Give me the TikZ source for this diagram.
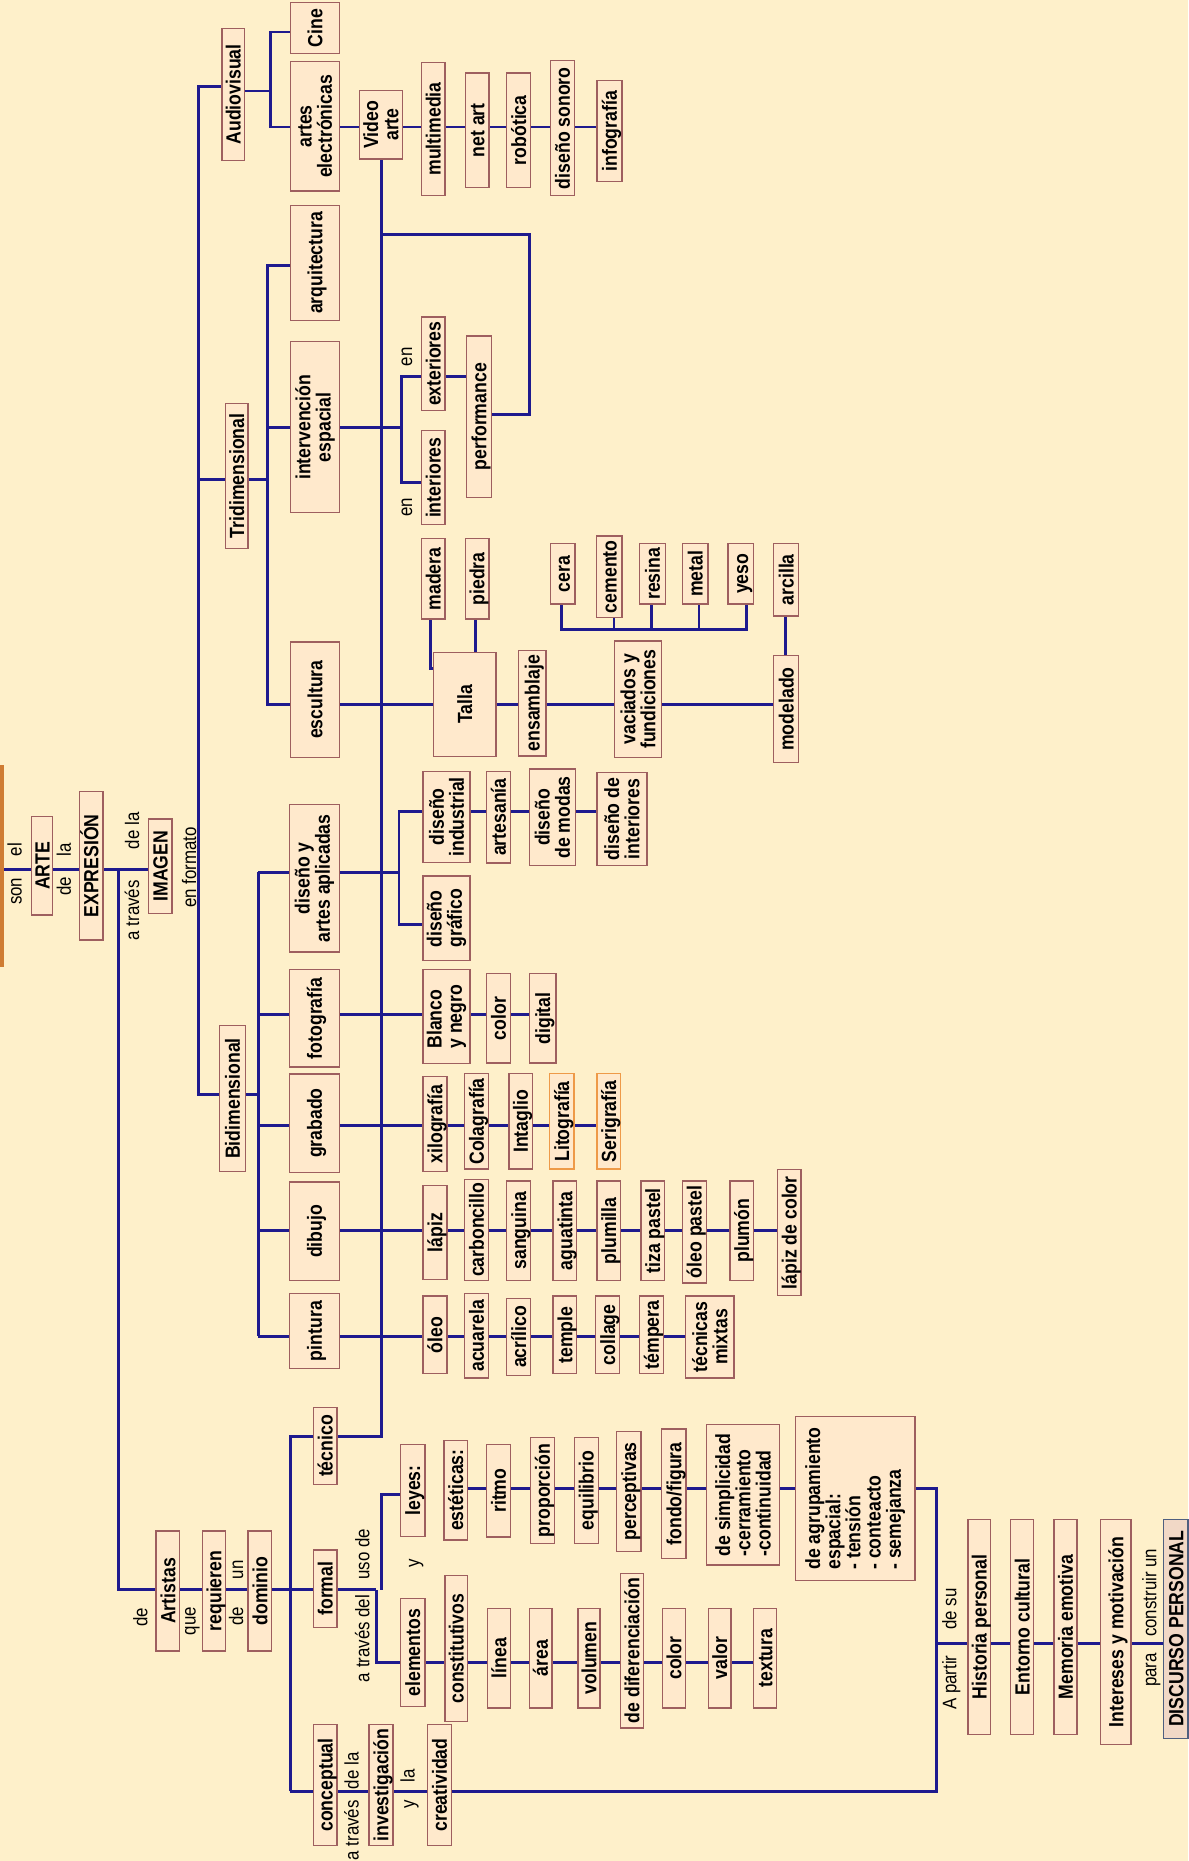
\documentclass[tikz,border=0pt]{standalone}
\usepackage{fontspec}
\setmainfont{Liberation Sans}[FakeStretch=0.86]
\definecolor{bgc}{HTML}{FEF0CA}
\definecolor{bxf}{HTML}{FFE9CC}
\definecolor{bxd}{HTML}{9E5F5F}
\definecolor{lnc}{HTML}{1E1A8E}
\definecolor{org}{HTML}{EE9A48}
\definecolor{dcf}{HTML}{F1D8C6}
\definecolor{dcd}{HTML}{4F5F7F}
\definecolor{barc}{HTML}{CF7C33}
\pgfdeclarelayer{back}\pgfdeclarelayer{bg}\pgfsetlayers{back,bg,main}
\tikzset{
 base/.style={draw=bxd, fill=bxf, line width=1.1pt, rotate=90, inner xsep=2pt, inner ysep=0pt,
   font={\bfseries\fontsize{17.3}{17}\selectfont\lineskiplimit=-50pt}},
 box/.style={base, text height=15pt, text depth=2.6pt},
 mbox/.style={base, align=center},
 lab/.style={rotate=90, inner sep=0pt, font={\fontsize{16.5}{17}\selectfont}, text height=12pt, text depth=3.5pt},
 ln/.style={draw=lnc, line width=2.4pt},
 dcb/.style={fill=dcf, draw=dcd},
}
\newcommand\bx[7][]{\node[box,#1,minimum width={(#6)-(#5)},minimum height={(#4)-(#3)}] (#2) at ({((#3)+(#4))/2},{((#5)+(#6))/2}) {#7};}
\newcommand\mbx[7][]{\node[mbox,#1,minimum width={(#6)-(#5)},minimum height={(#4)-(#3)}] (#2) at ({((#3)+(#4))/2},{((#5)+(#6))/2}) {#7};}
\newcommand\lb[4]{\node[lab] (#1) at (#2,#3) {#4};}
\begin{document}
\begin{tikzpicture}[x=1pt,y=-1pt]
\useasboundingbox (0,0) rectangle (1001,1568);
\begin{pgfonlayer}{back}
\fill[bgc] (0,0) rectangle (1001,1568);
\end{pgfonlayer}
% source bar (cut off at left edge)
\node[draw=barc, fill=barc, minimum width=40pt, minimum height=169pt, inner sep=0pt, line width=1pt] (bar) at (-17.5,729.5) {};
% boxes
\bx{aud}{187}{206}{24}{135}{Audiovisual}
\bx{cine}{245}{286}{2}{45}{Cine}
\mbx{artel}{245}{286}{52}{161}{artes\\electrónicas}
\mbx{video}{303}{339}{76}{134}{Video\\arte}
\bx{multi}{355}{375}{52.5}{165}{multimedia}
\bx{netart}{392}{412}{61.5}{158}{net art}
\bx{robot}{427}{447}{61.5}{158}{robótica}
\bx{sonoro}{464}{484}{51}{165}{diseño sonoro}
\bx{infog}{503}{524}{68}{153}{infografía}
\bx{arq}{245}{286}{173}{270}{arquitectura}
\mbx{interv}{245}{286}{288}{432}{intervención\\espacial}
\bx{exter}{355}{375}{267}{346}{exteriores}
\bx{perf}{393}{414}{283}{419}{performance}
\bx{inter}{355}{375}{363}{442}{interiores}
\bx{tri}{190}{209}{340}{462}{Tridimensional}
\bx{madera}{355}{375}{454}{521.5}{madera}
\bx{piedra}{392}{412}{454}{521.5}{piedra}
\bx{cera}{463.6}{484.5}{458}{509}{cera}
\bx{cemento}{502.5}{524}{451.5}{520.3}{cemento}
\bx{resina}{539}{560.5}{458}{509}{resina}
\bx{metal}{575}{596.6}{458}{509}{metal}
\bx{yeso}{613.4}{635}{458}{509}{yeso}
\bx{arcilla}{652}{673}{458}{519}{arcilla}
\bx{escult}{245}{286}{541}{638}{escultura}
\bx{talla}{365}{418}{549.5}{637.4}{Talla}
\bx{ensam}{437}{460}{548}{637}{ensamblaje}
\mbx{vaciados}{517.6}{557.6}{540}{638.3}{vaciados y\\fundiciones}
\bx{modelado}{652}{673}{552.3}{642.5}{modelado}
\mbx{disart}{244}{286}{678}{802}{diseño y\\artes aplicadas}
\mbx{disind}{356.5}{396}{650}{726.5}{diseño\\industrial}
\bx{artesania}{410}{430}{650}{727}{artesanía}
\mbx{modas}{446}{485}{648}{729.5}{diseño\\de modas}
\mbx{disint}{503}{545}{651}{729}{diseño de\\interiores}
\mbx[align=left]{disgraf}{356.5}{396}{738}{809}{diseño\\gráfico}
\bx{arte}{26.7}{44.4}{688}{771}{ARTE}
\bx{expr}{66.7}{86.7}{667}{792}{EXPRESIÓN}
\bx{imagen}{125}{145}{690}{769.4}{IMAGEN}
\bx{bid}{184.7}{207}{864}{987}{Bidimensional}
\bx{foto}{244}{286}{817}{899}{fotografía}
\bx{grab}{244}{286}{905}{987.6}{grabado}
\bx{dibujo}{244}{286}{996}{1079}{dibujo}
\bx{pintura}{244}{286}{1090}{1153}{pintura}
\mbx[align=left]{byn}{356.5}{396}{817}{896.3}{Blanco\\y negro}
\bx{colorf}{410}{430}{820.5}{895.7}{color}
\bx{digital}{446}{468.4}{820.5}{895.7}{digital}
\bx{xilo}{356.5}{376.5}{907}{987}{xilografía}
\bx{colag}{391.4}{411.4}{904.7}{985}{Colagrafía}
\bx{intag}{428.8}{448.4}{904.7}{985}{Intaglio}
\bx[draw=org]{lito}{463}{483.6}{904.7}{985}{Litografía}
\bx[draw=org]{seri}{503}{523}{904.7}{985}{Serigrafía}
\bx{lapiz}{356.5}{376.5}{999}{1078.3}{lápiz}
\bx{carbon}{391.4}{411.4}{993.5}{1079}{carboncillo}
\bx{sang}{427}{447}{995}{1079}{sanguina}
\bx{agua}{466}{486}{995}{1079}{aguatinta}
\bx{plumilla}{503}{523}{995}{1079}{plumilla}
\bx{tiza}{540}{560}{995}{1079}{tiza pastel}
\bx{oleop}{575}{595}{995}{1081}{óleo pastel}
\bx{plumon}{615}{635}{995}{1079}{plumón}
\bx{lapizc}{655}{675}{985.6}{1091.8}{lápiz de color}
\bx{oleo}{356.5}{376.5}{1092}{1157.5}{óleo}
\bx{acuarela}{391.4}{411.4}{1090}{1161}{acuarela}
\bx{acrilico}{427}{447}{1094}{1159}{acrílico}
\bx{temple}{466}{486}{1092}{1157.5}{temple}
\bx{collage}{502}{522}{1092}{1157.5}{collage}
\bx{tempera}{539}{559}{1092}{1157.5}{témpera}
\mbx{mixtas}{577.6}{618.5}{1092}{1161}{técnicas\\mixtas}
\bx{tecnico}{264}{284}{1185.6}{1251}{técnico}
\bx{artistas}{131.5}{151.5}{1290}{1391}{Artistas}
\bx{requieren}{170.5}{190}{1290}{1391}{requieren}
\bx{dominio}{209}{229}{1290}{1391}{dominio}
\bx{formal}{264}{284}{1306}{1371}{formal}
\bx{leyes}{337.5}{358}{1216.8}{1294.6}{leyes:}
\bx{estet}{374}{394}{1213.7}{1297.4}{estéticas:}
\bx{ritmo}{410}{430}{1216.8}{1295}{ritmo}
\bx{propor}{447}{467}{1211}{1300.7}{proporción}
\bx{equil}{484}{504}{1211}{1300.7}{equilibrio}
\bx{percep}{519.6}{540}{1206}{1307}{perceptivas}
\bx{fondo}{557.6}{578}{1204}{1313.4}{fondo/figura}
\mbx[align=left]{simpl}{595}{657}{1200.5}{1318.7}{de simplicidad\\-cerramiento\\-continuidad}
\mbx[align=left]{agrup}{670}{771}{1193.5}{1331.6}{de agrupamiento\\espacial:\\- tensión\\- conteacto\\- semejanza}
\bx{elem}{337.5}{358}{1347}{1438}{elementos}
\bx{constit}{375}{394}{1327.7}{1450.4}{constitutivos}
\bx{linea}{411}{430}{1355}{1439}{línea}
\bx{area}{446}{465}{1355}{1439}{área}
\bx{volumen}{487}{505.5}{1355}{1439}{volumen}
\bx{difer}{522.8}{542}{1325.5}{1456}{de diferenciación}
\bx{colore}{558}{577.6}{1355}{1439}{color}
\bx{valor}{597}{616}{1355}{1439}{valor}
\bx{textura}{635}{654}{1355}{1439}{textura}
\bx{concep}{264}{284}{1453}{1555}{conceptual}
\bx{invest}{311}{331}{1453}{1555}{investigación}
\bx{creat}{360.4}{380.4}{1453}{1555}{creatividad}
\bx{hist}{815.5}{834.5}{1280}{1461.6}{Historia personal}
\bx{entorno}{851.6}{871}{1280}{1461.6}{Entorno cultural}
\bx{memoria}{888}{907.4}{1280}{1461.6}{Memoria emotiva}
\bx{interes}{927.4}{953}{1280}{1470}{Intereses y motivación}
\bx[dcb]{discurso}{980.5}{1001}{1280}{1464.5}{DISCURSO PERSONAL}
% labels
\lb{l1}{14}{751}{son}
\lb{l2}{14}{716}{el}
\lb{l3}{55.5}{747}{de}
\lb{l4}{55.5}{716}{la}
\lb{l5}{113}{767}{a través}
\lb{l6}{113}{700}{de la}
\lb{l7}{161}{731}{en formato}
\lb{l8}{120}{1362.5}{de}
\lb{l9}{160.5}{1366}{que}
\lb{l10}{200.6}{1322.6}{un}
\lb{l11}{200.6}{1362}{de}
\lb{l12}{307}{1309.6}{uso de}
\lb{l13}{307}{1380.5}{a través del}
\lb{l14}{349}{1317}{y}
\lb{l15}{298}{1542}{a través}
\lb{l16}{298}{1492}{de la}
\lb{l17}{345}{1520}{y}
\lb{l18}{345}{1496}{la}
\lb{l19}{801.5}{1417.7}{A partir}
\lb{l20}{801.5}{1355.6}{de su}
\lb{l21}{970}{1407}{para}
\lb{l22}{970}{1342}{construir un}
\lb{l23}{343}{300.5}{en}
\lb{l24}{343}{427.7}{en}
% connectors
\begin{pgfonlayer}{bg}
\draw[ln] (bar |- 0,732.4) -- (imagen |- 0,732.4);
\coordinate (j1) at (99.7,732.4);
\coordinate (j2) at (99.7,1339.5);
\coordinate (jf) at (317,1339.5);
\draw[ln] (j1) -- (j2) -- (jf);
\coordinate (jt) at (244.6,1210.3);
\coordinate (jc) at (244.6,1509.4);
\coordinate (jv2) at (321.4,1210.3);
\draw[ln] (jc) -- (jt) -- (jv2) -- (jv2 |- video);
\coordinate (jr) at (788.7,1509.4);
\coordinate (jq) at (788.7,1253.8);
\coordinate (jp) at (788.7,1385);
\draw[ln] (jc) -- (jr) -- (jq) -- (estet |- jq);
\draw[ln] (jp) -- (discurso |- jp);
\coordinate (je) at (317,1400.7);
\draw[ln] (jf) -- (je) -- (textura |- je);
\coordinate (ju1) at (321.4,1339.5);
\coordinate (ju2) at (321.4,1259);
\draw[ln] (ju1) -- (ju2) -- (leyes |- ju2);
\coordinate (jl1) at (321.4,197.4);
\coordinate (jl2) at (446,197.4);
\coordinate (jl3) at (446,349);
\draw[ln] (jl1) -- (jl2) -- (jl3) -- (perf |- jl3);
% main vertical
\coordinate (m1) at (167.6,72.6);
\coordinate (m2) at (167.6,403.8);
\coordinate (m3) at (167.6,922);
\draw[ln] (aud |- m1) -- (m1) -- (m3) -- (bid |- m3);
\draw[ln] (m2) -- (tri |- m2);
% audiovisual
\coordinate (a1) at (228,76.7);
\coordinate (a2) at (228,27);
\coordinate (a3) at (228,107);
\draw[ln] (aud |- a1) -- (a1);
\draw[ln] (cine |- a2) -- (a2) -- (a3) -- (infog |- a3);
% tridimensional
\coordinate (t1) at (225.7,403.8);
\coordinate (t2) at (225.7,224);
\coordinate (t3) at (225.7,593.3);
\draw[ln] (tri |- t1) -- (t1);
\draw[ln] (arq |- t2) -- (t2) -- (t3) -- (modelado |- t3);
\coordinate (t4) at (225.7,360);
\coordinate (t5) at (338,360);
\coordinate (t6) at (338,317.3);
\coordinate (t7) at (338,406.6);
\draw[ln] (t4) -- (t5);
\draw[ln] (perf |- t6) -- (t6) -- (t7) -- (inter |- t7);
\draw[ln] (madera -| 362.7,0) -- (362.7,563.6) -- (talla |- 0,563.6);
\draw[ln] (piedra -| 400.7,0) -- (talla -| 400.7,0);
\draw[ln] (cera -| 473,0) -- (473,530.7) -- (629,530.7) -- (yeso -| 629,0);
\draw[ln] (cemento -| 517.3,0) -- (517.3,530.7);
\draw[ln] (resina -| 548.6,0) -- (548.6,530.7);
\draw[ln] (metal -| 589,0) -- (589,530.7);
\draw[ln] (arcilla -| 662,0) -- (modelado -| 662,0);
% bidimensional
\coordinate (b1) at (217.6,922);
\coordinate (b2) at (217.6,735.1);
\coordinate (b3) at (217.6,1126);
\draw[ln] (bid |- b1) -- (b1);
\draw[ln] (b2) -- (b3);
\coordinate (d1) at (336.2,735.1);
\coordinate (d2) at (336.2,683.8);
\coordinate (d3) at (336.2,779.2);
\draw[ln] (b2) -- (d1);
\draw[ln] (disint |- d2) -- (d2) -- (d3) -- (disgraf |- d3);
\draw[ln] (217.6,855) -- (digital |- 0,855);
\draw[ln] (217.6,948.5) -- (seri |- 0,948.5);
\draw[ln] (217.6,1036.7) -- (lapizc |- 0,1036.7);
\draw[ln] (b3) -- (mixtas |- b3);
\end{pgfonlayer}
\end{tikzpicture}
\end{document}
